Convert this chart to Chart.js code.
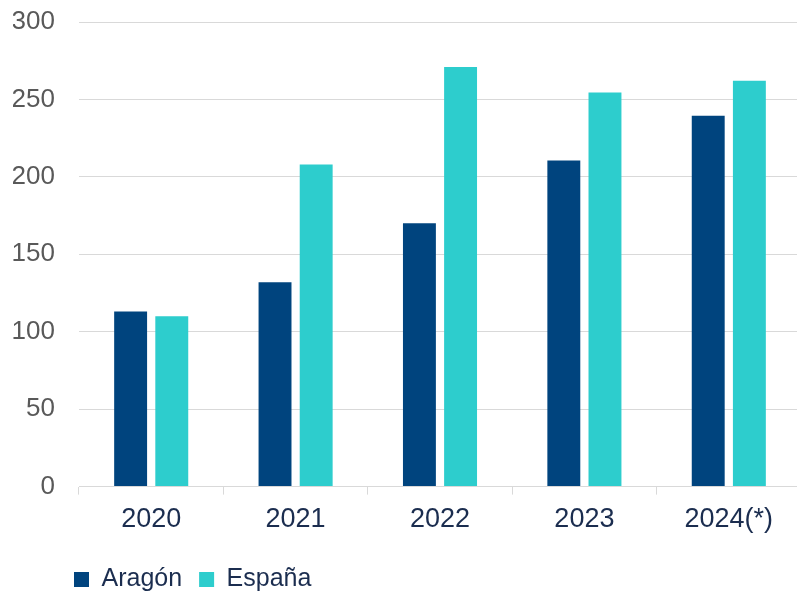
<!DOCTYPE html>
<html>
<head>
<meta charset="utf-8">
<script src="https://cdn.jsdelivr.net/npm/chart.js@4/dist/chart.umd.min.js"></script>
<style>
  html, body { margin: 0; padding: 0; background: #fff; overflow: hidden; }
  #wrap { width: 801px; height: 592px; position: relative; }
</style>
</head>
<body>
<div id="wrap"><canvas id="myChart"></canvas></div>
<script>
// ----------------- DATA -----------------
var years = ["2020", "2021", "2022", "2023", "2024(*)"];
var aragon = [113, 132, 170, 210.5, 239.5];
var espana = [110, 208, 271, 254.5, 262];
var seriesNames = ["Aragón", "España"];
var yTicks = [0, 50, 100, 150, 200, 250, 300];

var COL_ARAGON = "#00447e";
var COL_ESPANA = "#2dcdcd";
var GRID = "#d9d9d9";
var FONT = "'Liberation Sans', Arial, sans-serif";

// moves the legend to where the original had it (left, under the axis)
var legendMover = {
    id: "legendMover",
    afterLayout: function(chart) {
        var lg = chart.legend;
        var w = lg.right - lg.left;
        lg.left = 57;
        lg.right = lg.left + w;
        lg.top = 550;
    }
};

new Chart(document.getElementById("myChart"), {
    type: "bar",
    data: {
        labels: years,
        datasets: [{
            label: seriesNames[0],
            data: aragon,
            backgroundColor: COL_ARAGON,
            barPercentage: 0.8,
            categoryPercentage: 0.57
        }, {
            label: seriesNames[1],
            data: espana,
            backgroundColor: COL_ESPANA,
            barPercentage: 0.8,
            categoryPercentage: 0.57
        }]
    },
    options: {
        responsive: true,
        maintainAspectRatio: false,
        animation: false,
        layout: { padding: { left: 13, top: 22, right: 0, bottom: 0 } },
        plugins: {
            tooltip: { enabled: false },
            legend: {
                position: "bottom",
                align: "start",
                labels: {
                    boxWidth: 15,
                    boxHeight: 15,
                    padding: 17,
                    color: "#1b2d4f",
                    font: { family: FONT, size: 25 }
                }
            }
        },
        scales: {
            x: {
                afterFit: function(axis) { axis.height = axis.height - 5; },
                grid: {
                    offset: true,
                    drawOnChartArea: false,
                    drawTicks: true,
                    tickLength: 8,
                    color: GRID
                },
                border: { display: true, color: GRID, width: 1 },
                ticks: {
                    color: "#1b2d4f",
                    padding: 9,
                    font: { family: FONT, size: 27 }
                }
            },
            y: {
                min: yTicks[0],
                max: yTicks[yTicks.length - 1],
                afterBuildTicks: function(axis) {
                    axis.ticks = yTicks.map(function(v) { return { value: v }; });
                },
                afterFit: function(axis) {
                    axis.width = 66;
                    axis.paddingTop = 0;
                    axis.paddingBottom = 0;
                },
                grid: { color: GRID, drawTicks: false },
                border: { display: false },
                ticks: {
                    color: "#595959",
                    padding: 24,
                    font: { family: FONT, size: 26 }
                }
            }
        }
    },
    plugins: [legendMover]
});
</script>
</body>
</html>
